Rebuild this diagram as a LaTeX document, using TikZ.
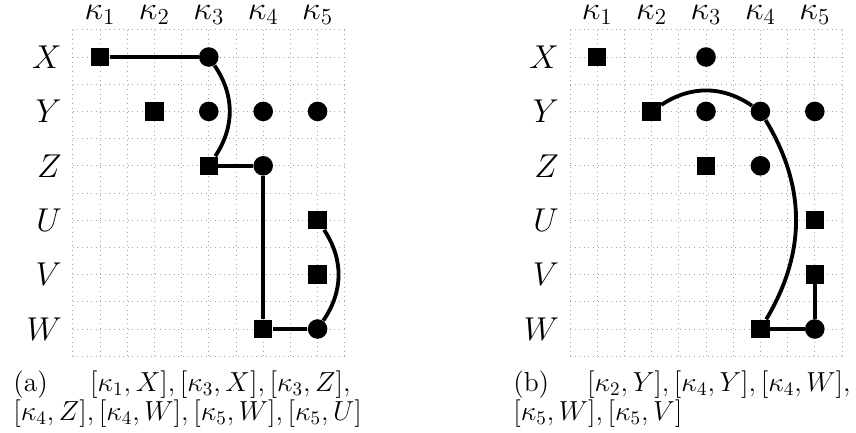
\documentclass[tikz,border=0pt]{standalone}
\usepackage{amsmath,amssymb}
\usetikzlibrary{positioning}

\begin{document}
\begin{tikzpicture}[every node/.style={font=\LARGE},
  help/.style={gray!70,dotted,step=0.5},
  sq/.style={fill=black,minimum size=3.4mm,inner sep=0pt},
  dot/.style={circle,fill=black,minimum size=3.6mm,inner sep=0pt},
  link/.style={line width=2pt},
  subcap/.style={font=\fontsize{14.4}{12.6}\selectfont,anchor=north west,text width=6.2cm,align=left,inner sep=0pt}]
  \useasboundingbox (-0.838,-1.893) rectangle (14.897,6.048);
  \foreach \p/\dx in {a/0,b/9.14}{
    \begin{scope}[xshift=\dx cm]
      \draw[help] (0.5,-0.5) grid (5.5,5.5);
      \foreach \k in {1,...,5} \node[inner sep=0pt] (\p k\k) at (\k,5.77) {$\kappa_{\k}$};
      \foreach \r/\y in {X/5,Y/4,Z/3,U/2,V/1,W/0} \node[left] (\p\r) at (0.42,\y) {$\r$};
      \foreach \k/\r/\y in {1/X/5,2/Y/4,3/Z/3,5/U/2,5/V/1,4/W/0}
        \node[sq] (\p\k\r) at (\k,\y) {};
      \foreach \k/\r/\y in {3/X/5,3/Y/4,4/Y/4,5/Y/4,4/Z/3,5/W/0}
        \node[dot] (\p\k\r) at (\k,\y) {};
    \end{scope}
  }
  % (a)
  \draw[link] (a1X) -- (a3X);
  \draw[link] (a3X) to[bend left=34] (a3Z);
  \draw[link] (a3Z) -- (a4Z) -- (a4W) -- (a5W);
  \draw[link] (a5W) to[bend right=34] (a5U);
  \node[subcap] (capa) at (-0.6,-0.76) {(a)\hfill$[\kappa_1,X],[\kappa_3,X],[\kappa_3,Z],$\\
    $[\kappa_4,Z],[\kappa_4,W],[\kappa_5,W],[\kappa_5,U]$};
  % (b)
  \draw[link] (b2Y) to[bend left=34] (b4Y);
  \draw[link] (b4Y) to[bend left=31] (b4W);
  \draw[link] (b4W) -- (b5W) -- (b5V);
  \node[subcap] (capb) at (8.59,-0.76) {(b)\hfill$[\kappa_2,Y],[\kappa_4,Y],[\kappa_4,W],$\\
    $[\kappa_5,W],[\kappa_5,V]$};
\end{tikzpicture}
\end{document}
